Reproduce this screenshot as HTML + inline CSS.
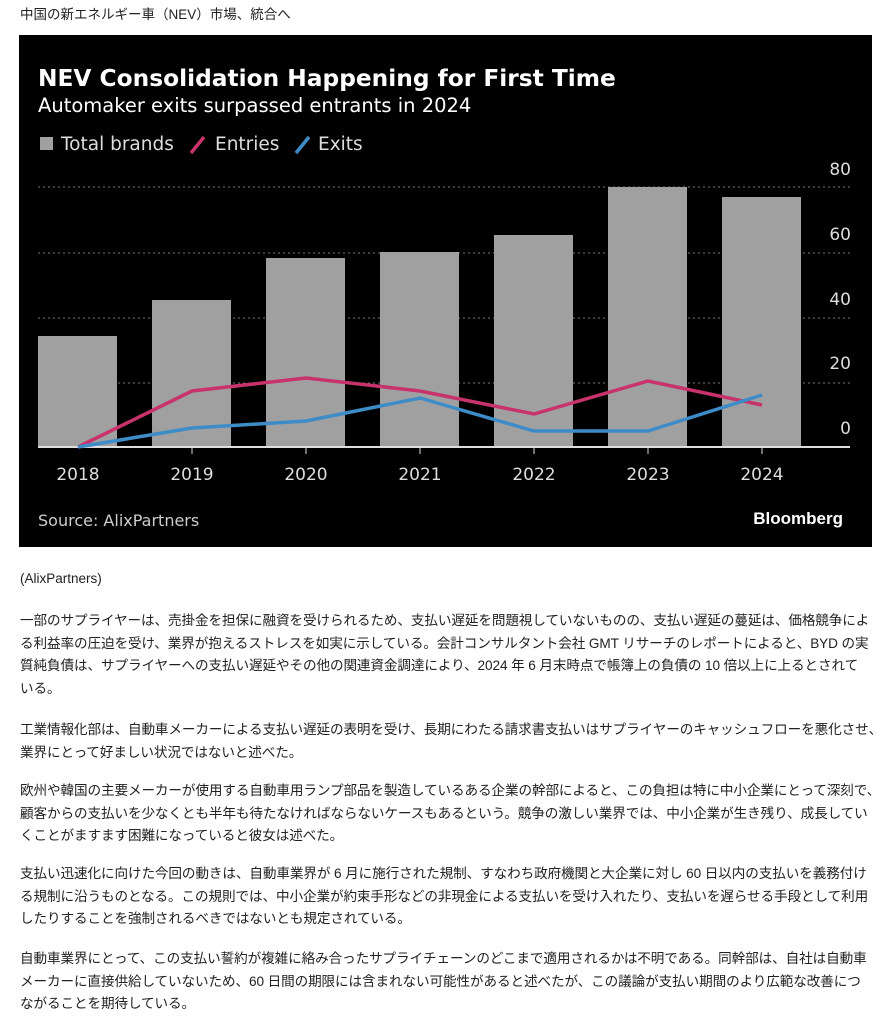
<!DOCTYPE html>
<html><head><meta charset="utf-8"><style>
body{margin:0;width:884px;height:1024px;background:#fff;font-family:"Liberation Sans","Noto Sans CJK JP",sans-serif;color:#222;overflow:hidden;position:relative}
.t{position:absolute;left:20px;font-size:14px;white-space:nowrap}
p{position:absolute;left:20px;margin:0;font-size:13.6px;line-height:22.5px;color:#222;letter-spacing:-0.1px;white-space:nowrap}
</style></head><body>
<div class="t" style="top:3px;font-size:13.5px">中国の新エネルギー車（NEV）市場、統合へ</div>
<svg style="position:absolute;left:19px;top:35px" width="853" height="512" viewBox="19 35 853 512">
<rect x="19" y="35" width="853" height="512" fill="#000"/>
<text x="38" y="86" fill="#fff" font-family="DejaVu Sans" font-weight="bold" font-size="23.3">NEV Consolidation Happening for First Time</text>
<text x="38" y="112" fill="#fff" font-family="DejaVu Sans" font-size="19.5">Automaker exits surpassed entrants in 2024</text>
<rect x="40" y="137" width="13" height="13" fill="#a0a0a0"/>
<text x="61" y="150" fill="#ddd" font-family="DejaVu Sans" font-size="18.5">Total brands</text>
<line x1="191" y1="153" x2="204" y2="137" stroke="#c8336c" stroke-width="3.5"/>
<text x="215" y="150" fill="#ddd" font-family="DejaVu Sans" font-size="18.5">Entries</text>
<line x1="296" y1="153" x2="309" y2="137" stroke="#3d8cc8" stroke-width="3.5"/>
<text x="318" y="150" fill="#ddd" font-family="DejaVu Sans" font-size="18.5">Exits</text>
<g stroke="#777" stroke-dasharray="2,3" stroke-width="1">
<line x1="38" y1="187" x2="850" y2="187"/><line x1="38" y1="253" x2="850" y2="253"/><line x1="38" y1="318" x2="850" y2="318"/><line x1="38" y1="383" x2="850" y2="383"/>
</g>
<g fill="#a0a0a0">
<rect x="38" y="336" width="79" height="111"/><rect x="152" y="300" width="79" height="147"/><rect x="266" y="258" width="79" height="189"/><rect x="380" y="252" width="79" height="195"/><rect x="494" y="235" width="79" height="212"/><rect x="608" y="187" width="79" height="260"/><rect x="722" y="197" width="79" height="250"/>
</g>
<line x1="38" y1="447" x2="850" y2="447" stroke="#ddd" stroke-width="2"/>
<g stroke="#ddd" stroke-width="1"><line x1="192" y1="447" x2="192" y2="454"/><line x1="306" y1="447" x2="306" y2="454"/><line x1="420" y1="447" x2="420" y2="454"/><line x1="534" y1="447" x2="534" y2="454"/><line x1="648" y1="447" x2="648" y2="454"/><line x1="762" y1="447" x2="762" y2="454"/></g>
<polyline points="78,447 192,391 306,378 420,391 534,414 648,381 762,405" fill="none" stroke="#c8336c" stroke-width="3.5"/>
<polyline points="78,447 192,428 306,421 420,398 534,431 648,431 762,395" fill="none" stroke="#3d8cc8" stroke-width="3.5"/>
<g fill="#ddd" font-family="DejaVu Sans" font-size="17" text-anchor="end">
<text x="851" y="175">80</text><text x="851" y="240">60</text><text x="851" y="305">40</text><text x="851" y="369">20</text><text x="851" y="434">0</text>
</g>
<g fill="#ddd" font-family="DejaVu Sans" font-size="17" text-anchor="middle">
<text x="78" y="480">2018</text><text x="192" y="480">2019</text><text x="306" y="480">2020</text><text x="420" y="480">2021</text><text x="534" y="480">2022</text><text x="648" y="480">2023</text><text x="762" y="480">2024</text>
</g>
<text x="38" y="526" fill="#ccc" font-family="DejaVu Sans" font-size="16">Source: AlixPartners</text>
<text x="843" y="524" fill="#fff" font-family="Liberation Sans" font-weight="bold" font-size="17" text-anchor="end">Bloomberg</text>
</svg>
<div class="t" style="top:571px;font-size:13.5px">(AlixPartners)</div>
<p style="top:610px">一部のサプライヤーは、売掛金を担保に融資を受けられるため、支払い遅延を問題視していないものの、支払い遅延の蔓延は、価格競争によ<br>る利益率の圧迫を受け、業界が抱えるストレスを如実に示している。会計コンサルタント会社 GMT リサーチのレポートによると、BYD の実<br>質純負債は、サプライヤーへの支払い遅延やその他の関連資金調達により、2024 年 6 月末時点で帳簿上の負債の 10 倍以上に上るとされて<br>いる。</p>
<p style="top:719px">工業情報化部は、自動車メーカーによる支払い遅延の表明を受け、長期にわたる請求書支払いはサプライヤーのキャッシュフローを悪化させ、<br>業界にとって好ましい状況ではないと述べた。</p>
<p style="top:780px">欧州や韓国の主要メーカーが使用する自動車用ランプ部品を製造しているある企業の幹部によると、この負担は特に中小企業にとって深刻で、<br>顧客からの支払いを少なくとも半年も待たなければならないケースもあるという。競争の激しい業界では、中小企業が生き残り、成長してい<br>くことがますます困難になっていると彼女は述べた。</p>
<p style="top:863px">支払い迅速化に向けた今回の動きは、自動車業界が 6 月に施行された規制、すなわち政府機関と大企業に対し 60 日以内の支払いを義務付け<br>る規制に沿うものとなる。この規則では、中小企業が約束手形などの非現金による支払いを受け入れたり、支払いを遅らせる手段として利用<br>したりすることを強制されるべきではないとも規定されている。</p>
<p style="top:948px">自動車業界にとって、この支払い誓約が複雑に絡み合ったサプライチェーンのどこまで適用されるかは不明である。同幹部は、自社は自動車<br>メーカーに直接供給していないため、60 日間の期限には含まれない可能性があると述べたが、この議論が支払い期間のより広範な改善につ<br>ながることを期待している。</p>
</body></html>
